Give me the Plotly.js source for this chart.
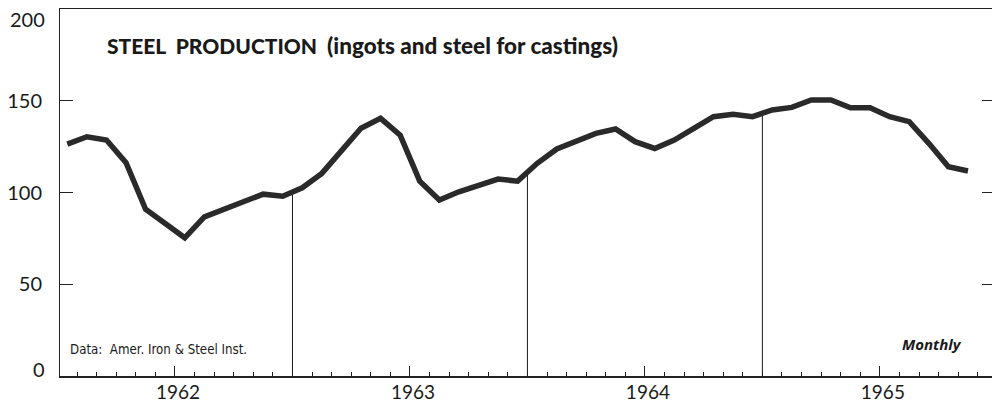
<!DOCTYPE html>
<html>
<head>
<meta charset="utf-8">
<script src="https://cdn.plot.ly/plotly-3.0.1.min.js"></script>
<style>
html,body{margin:0;padding:0;background:#fff;overflow:hidden;width:992px;height:404px;}
#chart{width:1000px;height:404px;}
</style>
</head>
<body>
<div id="chart"></div>
<script>
// Monthly data, Jan 1962 – Nov 1965 (index units, mid-month)
const months = [
  '1962-01','1962-02','1962-03','1962-04','1962-05','1962-06','1962-07','1962-08','1962-09','1962-10','1962-11','1962-12',
  '1963-01','1963-02','1963-03','1963-04','1963-05','1963-06','1963-07','1963-08','1963-09','1963-10','1963-11','1963-12',
  '1964-01','1964-02','1964-03','1964-04','1964-05','1964-06','1964-07','1964-08','1964-09','1964-10','1964-11','1964-12',
  '1965-01','1965-02','1965-03','1965-04','1965-05','1965-06','1965-07','1965-08','1965-09','1965-10','1965-11'
];
const production = [
  126.4,130.4,128.6,116.2,90.9,83.5,75.3,86.7,90.8,94.9,99.1,98.0,
  102.6,110.4,122.2,135.0,140.4,131.3,106.2,95.9,100.4,104.0,107.3,106.2,
  115.9,123.7,127.7,132.2,134.6,127.7,124.0,128.6,135.0,141.3,142.6,141.3,
  145.0,146.4,150.4,150.4,146.2,146.2,141.3,138.6,126.8,114.0,111.7
];
const yearLabels = ['1962','1963','1964','1965'];
const yTicks = [0,50,100,150,200];

const xIdx = months.map((m,i)=>i);
// month boundaries (ticks) and mid-year positions
const monthBounds = [];
for (let i=0;i<=months.length;i++) monthBounds.push(i-0.5);
const midYears = yearLabels.map((y,k)=>k*12+5.5);
const yearBounds = [1,2,3].map(k=>k*12-0.5);

const traces = [{
  x: xIdx, y: production, type:'scatter', mode:'lines',
  line:{color:'#2a2a2a', width:5.5, shape:'linear'},
  hoverinfo:'skip', xaxis:'x', yaxis:'y'
}];
// vertical year dividers from axis up to curve
yearBounds.forEach(b=>{
  const i0 = Math.floor(b), i1 = Math.ceil(b);
  const v = (production[i0]+production[i1])/2;
  traces.unshift({x:[b,b], y:[0,v], type:'scatter', mode:'lines',
    line:{color:'#1a1a1a', width:1}, hoverinfo:'skip', xaxis:'x', yaxis:'y'});
});
// invisible trace for overlay axis
traces.push({x:midYears, y:midYears.map(()=>null), type:'scatter', mode:'markers',
  xaxis:'x2', yaxis:'y', hoverinfo:'skip', showlegend:false});

const xr = [-0.373, 47.38];
const numFont = {family:'Lato, "Open Sans", sans-serif', size:20, color:'#1a1a1a'};
const yearFont = {family:'Lato, "Open Sans", sans-serif', size:19, color:'#1a1a1a'};

const layout = {
  width:1000, height:404,
  margin:{l:60, r:5, t:9, b:28},
  paper_bgcolor:'#fff', plot_bgcolor:'#fff',
  showlegend:false,
  xaxis:{
    range:xr, showgrid:false, zeroline:false,
    tickmode:'array', tickvals:monthBounds, ticks:'inside', ticklen:4, tickwidth:1, tickcolor:'#222',
    showticklabels:false, showline:true, linecolor:'#222', linewidth:1.5, mirror:true
  },
  xaxis2:{
    range:xr, overlaying:'x', side:'bottom', showgrid:false, zeroline:false, showline:false,
    tickmode:'array', tickvals:midYears, ticktext:yearLabels, ticks:'inside', ticklen:10, tickwidth:1, tickcolor:'#222',
    tickfont:yearFont, ticklabelstandoff:3, ticklabelshift:3
  },
  yaxis:{
    range:[0,200], showgrid:false, zeroline:false,
    tickmode:'array', tickvals:yTicks, ticktext:yTicks.map(v=>(v===0||v===200)?'':String(v)),
    ticks:'inside', ticklen:13, tickwidth:1, tickcolor:'#222',
    showline:true, linecolor:'#222', linewidth:1, mirror:'ticks',
    tickfont:numFont, ticklabelstandoff:13
  },
  annotations:[
    {xref:'paper', yref:'y', x:0, y:200, xanchor:'right', yanchor:'middle', xshift:-13, yshift:-10,
     text:String(yTicks[4]), showarrow:false, font:numFont},
    {xref:'paper', yref:'y', x:0, y:0, xanchor:'right', yanchor:'middle', xshift:-13, yshift:7,
     text:String(yTicks[0]), showarrow:false, font:numFont},
    {xref:'paper', yref:'paper', x:(105-60)/935, y:(376-45)/367, xanchor:'left', yanchor:'middle',
     text:'STEEL&nbsp; PRODUCTION&nbsp; <span style="font-size:22.5px">(ingots and steel for castings)</span>', showarrow:false,
     font:{family:'Lato, "Open Sans", sans-serif', size:21, color:'#1a1a1a', weight:900}},
    {xref:'paper', yref:'paper', x:(68-60)/935, y:(376-349)/367, xanchor:'left', yanchor:'middle',
     text:'Data:&nbsp; Amer. Iron &amp; Steel Inst.', showarrow:false,
     font:{family:'"Liberation Sans Narrow", "DejaVu Sans Condensed", sans-serif', size:13.2, color:'#1a1a1a'}},
    {xref:'paper', yref:'paper', x:(964-60)/935, y:(376-344)/367, xanchor:'right', yanchor:'middle',
     text:'<b><i>Monthly</i></b>', showarrow:false,
     font:{family:'"Open Sans", Lato, sans-serif', size:15, color:'#1a1a1a'}}
  ]
};

Plotly.newPlot('chart', traces, layout, {staticPlot:true, displayModeBar:false});
</script>
</body>
</html>
